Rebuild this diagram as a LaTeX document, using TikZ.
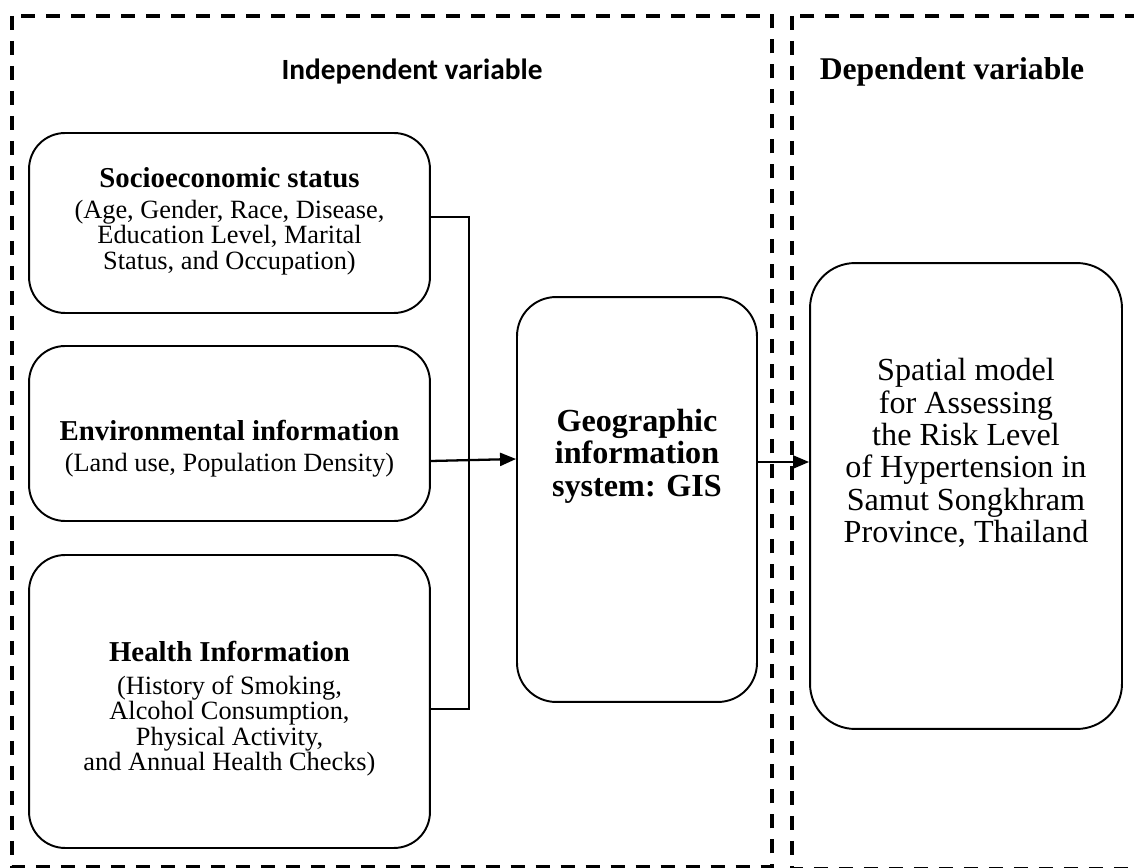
\documentclass[tikz,border=0pt]{standalone}
\usepackage{fontspec}
\setmainfont{Liberation Serif}
\newfontfamily\headfont{Carlito}
\usetikzlibrary{arrows.meta}

\newcommand{\boxtitle}{\fontsize{16.4}{19}\selectfont\bfseries}

\begin{document}
\begin{tikzpicture}[
  x=0.02cm, y=-0.02cm,
  box/.style={draw, line width=1.1pt, rounded corners=0.72cm, inner sep=0pt},
  side/.style={box, minimum width=8.02cm},
  txt/.style={align=center, inner sep=0pt, font=\fontsize{15}{14.5}\selectfont},
  big/.style={align=center, inner sep=0pt, font=\fontsize{18.3}{18.4}\selectfont},
  frame/.style={line width=2pt, dash pattern=on 0.28cm off 0.22cm},
  link/.style={line width=0.7pt},
  arr/.style={line width=1.3pt, -{Triangle[length=0.32cm, width=0.26cm]}}
]
\useasboundingbox (0,0) rectangle (1134,868);
\clip (0,0) rectangle (1134,868);

% Frames
\draw[frame] (12,16) rectangle (772,867);
\draw[frame] (792,16) rectangle (1150,869);
\node[font=\headfont\fontsize{16.7}{18}\selectfont\bfseries] (indep) at (412,72) {Independent variable};
\node[font=\fontsize{18}{20}\selectfont\bfseries] (dep) at (952,72) {Dependent variable};

% Boxes
\node[side, minimum height=3.6cm]  (socio)  at (229.5,223) {};
\node[side, minimum height=3.5cm]  (env)    at (229.5,433.5) {};
\node[side, minimum height=5.86cm] (health) at (229.5,701.5) {};
\node[box, minimum width=4.8cm, minimum height=8.1cm, rounded corners=0.78cm] (gis) at (637,499.5) {};
\node[box, minimum width=6.24cm, minimum height=9.32cm, rounded corners=0.9cm] (model) at (966,496) {};

% Texts
\node[txt] (socio-t) at (229.5,221) {{\boxtitle Socioeconomic status}\\[3pt]
  (Age, Gender, Race, Disease,\\Education Level, Marital\\Status, and Occupation)};
\node[txt] (env-t) at (229.5,449) {{\boxtitle Environmental information}\\[3pt]
  (Land use, Population Density)};
\node[txt] (health-t) at (229.5,709) {{\boxtitle Health Information}\\[4pt]
  (History of Smoking,\\Alcohol Consumption,\\Physical Activity,\\and Annual Health Checks)};
\node[big, font=\fontsize{18.3}{18.4}\selectfont\bfseries] (gis-t) at (637,456) {Geographic\\information\\system: GIS};
\node[big] (model-t) at (966,453) {Spatial model\\for Assessing\\the Risk Level\\of Hypertension in\\Samut Songkhram\\Province, Thailand};

% Connectors
\coordinate (jt) at (469,217);
\coordinate (jb) at (469,709);
\draw[link] (socio.east |- jt) -- (jt) -- (jb) -- (health.east |- jb);
\coordinate (ea) at (0,461);
\coordinate (eb) at (0,459);
\draw[arr] (env.east |- ea) -- (gis.west |- eb);
\coordinate (ga) at (0,462);
\draw[arr] (gis.east |- ga) -- (model.west |- ga);

\end{tikzpicture}
\end{document}
